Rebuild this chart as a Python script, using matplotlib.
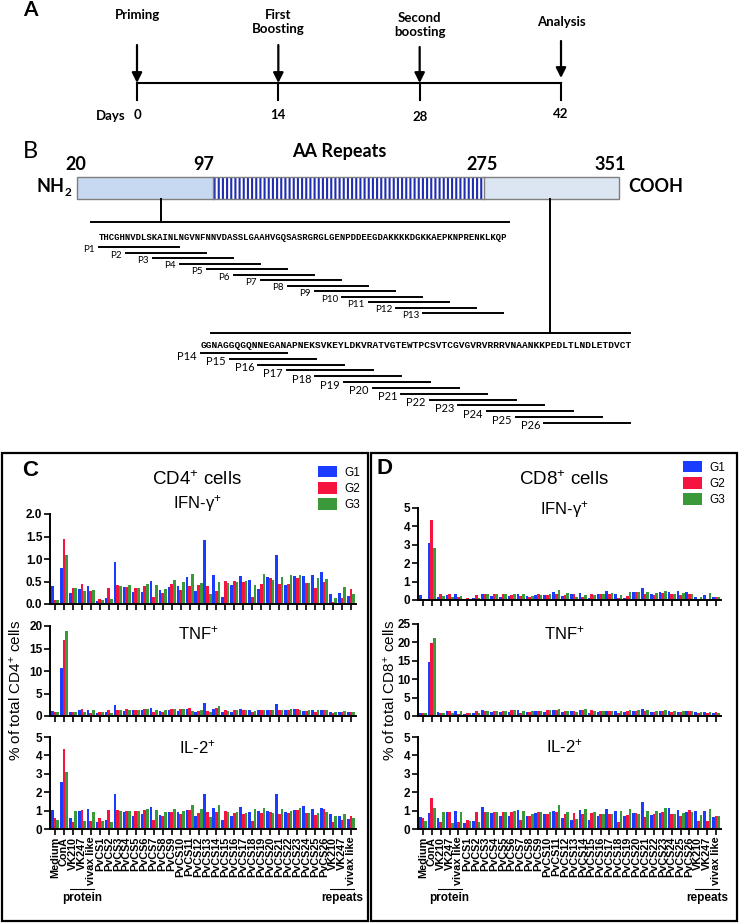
"""
Immunization scheme, PvCS peptide map and cytokine responses (CD4+ / CD8+)
"""

import matplotlib.pyplot as plt
import matplotlib.transforms as mtransforms
import numpy as np
from matplotlib.patches import Rectangle

plt.rcParams["font.family"] = ["Liberation Sans", "DejaVu Sans"]
plt.rcParams["mathtext.fontset"] = "custom"
plt.rcParams["mathtext.rm"] = "Liberation Sans"
plt.rcParams["mathtext.bf"] = "Liberation Sans:bold"
plt.rcParams["mathtext.it"] = "Liberation Sans:italic"
plt.rcParams["hatch.linewidth"] = 1.5

# ── Data ─────────────────────────────────────────────────────────────────────
EVENTS     = ["Priming", "First\nBoosting", "Second\nboosting", "Analysis"]
EVENT_DAYS = [0, 14, 28, 42]

DOMAIN_BOUNDS = [20, 97, 275, 351]
SEQ_N = "THCGHNVDLSKAINLNGVNFNNVDASSLGAAHVGQSASRGRGLGENPDDEEGDAKKKKDGKKAEPKNPRENKLKQP"
SEQ_C = "GGNAGGQGQNNEGANAPNEKSVKEYLDKVRATVGTEWTPCSVTCGVGVRVRRRVNAANKKPEDLTLNDLETDVCT"
PEPTIDES_N = [f"P{i}" for i in range(1, 14)]
PEPTIDES_C = [f"P{i}" for i in range(14, 27)]

STIMULI = (["Medium", "ConA", "VK210", "VK247", "vivax like"]
           + [f"PvCS{i}" for i in range(1, 27)]
           + ["VK210", "VK247", "vivax like"])
GROUPS = ["G1", "G2", "G3"]

CD4_IFN_G1 = [0.39, 0.79, 0.25, 0.34, 0.39, 0.07, 0.14, 0.94, 0.37, 0.26, 0.26, 0.52, 0.32, 0.37, 0.40, 0.60, 0.28,
              1.42, 0.65, 0.15, 0.42, 0.63, 0.53, 0.34, 0.61, 1.10, 0.42, 0.63, 0.63, 0.65, 0.72, 0.22, 0.25, 0.17]
CD4_IFN_G2 = [0.09, 1.45, 0.36, 0.44, 0.29, 0.11, 0.35, 0.42, 0.38, 0.36, 0.40, 0.15, 0.24, 0.45, 0.32, 0.41, 0.43,
              0.40, 0.30, 0.52, 0.52, 0.48, 0.15, 0.45, 0.57, 0.44, 0.44, 0.58, 0.47, 0.35, 0.50, 0.05, 0.13, 0.34]
CD4_IFN_G3 = [0.10, 1.10, 0.36, 0.29, 0.32, 0.09, 0.11, 0.40, 0.42, 0.35, 0.44, 0.42, 0.34, 0.53, 0.48, 0.66, 0.46,
              0.22, 0.48, 0.46, 0.48, 0.52, 0.42, 0.66, 0.53, 0.59, 0.64, 0.65, 0.47, 0.58, 0.55, 0.14, 0.38, 0.22]

CD4_TNF_G1 = [1.2, 10.6, 1.0, 1.4, 1.4, 0.7, 1.0, 2.5, 1.2, 1.3, 1.3, 1.8, 1.1, 1.4, 1.2, 1.5, 0.9,
              2.9, 1.6, 0.8, 1.0, 1.5, 1.4, 1.4, 1.3, 2.6, 1.3, 1.5, 1.2, 1.3, 1.4, 0.9, 1.0, 0.8]
CD4_TNF_G2 = [0.9, 16.8, 0.8, 1.5, 0.7, 0.8, 1.4, 1.3, 1.6, 1.3, 1.6, 0.8, 1.0, 1.5, 1.6, 1.7, 1.1,
              1.2, 1.7, 1.4, 1.3, 1.3, 0.8, 1.3, 1.3, 1.3, 1.3, 1.6, 1.2, 1.0, 1.3, 0.7, 0.8, 1.0]
CD4_TNF_G3 = [0.8, 18.8, 1.0, 0.8, 1.4, 0.8, 0.6, 1.3, 1.4, 1.3, 1.6, 1.3, 1.3, 1.5, 1.6, 1.2, 1.4,
              1.0, 2.2, 1.2, 1.4, 1.3, 1.2, 1.4, 1.3, 1.3, 1.6, 1.4, 1.3, 1.3, 1.3, 0.9, 1.1, 0.8]

CD4_IL2_G1 = [1.05, 2.55, 0.60, 1.00, 1.10, 0.40, 0.50, 1.90, 0.95, 0.70, 0.80, 1.20, 0.75, 0.90, 0.95, 1.05, 0.70,
              1.90, 1.13, 0.50, 0.70, 1.18, 0.93, 0.98, 0.98, 1.88, 0.90, 1.02, 1.23, 1.08, 1.12, 0.80, 0.68, 0.55]
CD4_IL2_G2 = [0.60, 4.35, 0.40, 1.05, 0.45, 0.60, 1.05, 1.05, 1.00, 1.00, 1.05, 0.50, 0.70, 0.92, 0.80, 1.05, 0.85,
              0.93, 0.95, 1.00, 0.87, 0.80, 0.45, 0.88, 0.90, 0.80, 0.85, 1.02, 0.88, 0.75, 1.10, 0.40, 0.48, 0.72]
CD4_IL2_G3 = [0.50, 3.10, 0.97, 0.45, 0.95, 0.45, 0.40, 1.00, 1.00, 1.00, 1.10, 1.05, 0.90, 1.07, 1.00, 1.33, 1.10,
              0.65, 1.28, 0.95, 0.95, 0.88, 1.07, 1.15, 0.85, 1.07, 1.00, 1.12, 0.85, 0.88, 0.95, 0.70, 0.80, 0.60]

CD8_IFN_G1 = [0.25, 3.10, 0.15, 0.25, 0.30, 0.03, 0.10, 0.33, 0.22, 0.18, 0.20, 0.35, 0.22, 0.27, 0.28, 0.42, 0.20,
              0.30, 0.40, 0.10, 0.30, 0.50, 0.35, 0.12, 0.45, 0.65, 0.30, 0.45, 0.45, 0.47, 0.45, 0.15, 0.25, 0.15]
CD8_IFN_G2 = [0.05, 4.35, 0.30, 0.35, 0.15, 0.10, 0.27, 0.30, 0.30, 0.30, 0.28, 0.20, 0.18, 0.33, 0.25, 0.33, 0.27,
              0.30, 0.15, 0.35, 0.35, 0.35, 0.10, 0.22, 0.42, 0.30, 0.25, 0.38, 0.33, 0.25, 0.35, 0.05, 0.05, 0.15]
CD8_IFN_G3 = [0.03, 2.80, 0.20, 0.15, 0.22, 0.05, 0.10, 0.32, 0.32, 0.35, 0.30, 0.33, 0.22, 0.27, 0.35, 0.55, 0.38,
              0.15, 0.27, 0.25, 0.33, 0.40, 0.25, 0.42, 0.45, 0.45, 0.40, 0.47, 0.35, 0.38, 0.32, 0.15, 0.40, 0.15]

CD8_TNF_G1 = [0.9, 14.6, 1.0, 1.3, 1.3, 0.6, 0.9, 1.6, 1.1, 1.2, 1.2, 1.6, 1.0, 1.3, 1.2, 1.5, 1.0,
              1.4, 1.5, 0.8, 1.1, 1.4, 1.3, 1.2, 1.4, 2.0, 1.0, 1.3, 1.4, 1.2, 1.3, 1.0, 1.2, 0.9]
CD8_TNF_G2 = [0.8, 19.9, 0.7, 1.3, 0.6, 0.9, 1.3, 1.4, 1.4, 1.3, 1.5, 0.9, 1.0, 1.4, 1.5, 1.5, 1.3,
              1.3, 1.5, 1.5, 1.3, 1.3, 0.7, 1.3, 1.4, 1.3, 1.2, 1.3, 1.1, 1.1, 1.3, 0.7, 0.7, 1.0]
CD8_TNF_G3 = [0.8, 21.3, 0.9, 0.9, 1.3, 0.7, 0.7, 1.4, 1.4, 1.4, 1.5, 1.4, 1.3, 1.4, 1.5, 1.8, 1.4,
              1.0, 1.9, 1.3, 1.4, 1.3, 1.3, 1.5, 1.5, 1.6, 1.4, 1.6, 1.3, 1.4, 1.4, 1.1, 1.1, 0.9]

CD8_IL2_G1 = [0.65, 0.85, 0.60, 0.95, 1.00, 0.35, 0.45, 1.20, 0.85, 0.68, 0.70, 1.05, 0.70, 0.85, 0.80, 1.00, 0.62,
              0.50, 1.05, 0.50, 0.68, 1.07, 0.98, 0.68, 0.88, 1.48, 0.75, 0.88, 1.15, 1.03, 0.95, 1.00, 1.00, 0.65]
CD8_IL2_G2 = [0.60, 1.70, 0.40, 0.90, 0.40, 0.50, 0.95, 0.95, 0.95, 0.95, 0.95, 0.50, 0.68, 0.90, 0.80, 0.95, 0.80,
              0.88, 0.80, 0.88, 0.82, 0.80, 0.40, 0.75, 0.88, 0.65, 0.82, 0.92, 0.80, 0.72, 1.02, 0.43, 0.45, 0.72]
CD8_IL2_G3 = [0.45, 1.15, 0.90, 0.30, 0.90, 0.45, 0.40, 0.90, 0.93, 0.95, 1.00, 1.00, 0.82, 0.90, 0.90, 1.28, 0.95,
              0.55, 1.08, 0.90, 0.82, 0.80, 1.00, 1.10, 0.80, 1.00, 1.00, 1.15, 0.80, 0.85, 0.90, 0.75, 1.10, 0.72]

# ── Style ────────────────────────────────────────────────────────────────────
COLORS = ["#1a3cff", "#f5143f", "#3a9a3a"]
SCHEME_FONT = "Lato"
W, H = 740, 924

fig = plt.figure(figsize=(W / 100, H / 100), dpi=100)

# full-figure canvas in pixel coordinates (y down)
canvas = fig.add_axes([0, 0, 1, 1])
canvas.set_xlim(0, W)
canvas.set_ylim(H, 0)
canvas.axis("off")


def px_axes(x0, y0, x1, y1):
    return fig.add_axes([x0 / W, 1 - y1 / H, (x1 - x0) / W, (y1 - y0) / H])


# ── A: immunization timeline ─────────────────────────────────────────────────
canvas.text(30, 10, "A", fontsize=15, fontweight="bold", family=SCHEME_FONT, ha="center", va="center")

axA = px_axes(137, 0, 561, 180)
axA.set_xlim(0, 42)
axA.set_ylim(180, 0)
axA.axis("off")
axA.patch.set_visible(False)

label_y  = [15, 22, 25, 22]
arrow_y0 = [45, 45, 47, 41]
arrow_y1 = [83, 83, 83, 78]
day_y    = [115, 115, 117, 114]

axA.plot([EVENT_DAYS[0], EVENT_DAYS[-1]], [83, 83], color="black", lw=1.5, clip_on=False)
for d, ev, ly, a0, a1, dy in zip(EVENT_DAYS, EVENTS, label_y, arrow_y0, arrow_y1, day_y):
    axA.plot([d, d], [83, 100], color="black", lw=1.5, clip_on=False)
    axA.annotate("", xy=(d, a1), xytext=(d, a0),
                 arrowprops=dict(arrowstyle="-|>", color="black", lw=1.6,
                                 mutation_scale=15, shrinkA=0, shrinkB=0))
    axA.text(d, ly, ev, ha="center", va="center", fontsize=9.5, fontweight="bold",
             family=SCHEME_FONT, linespacing=1.25, clip_on=False)
    axA.text(d, dy, str(d), ha="center", va="center", fontsize=9.5, fontweight="bold",
             family=SCHEME_FONT, clip_on=False)
canvas.text(111, 116, "Days", ha="center", va="center", fontsize=9.5, fontweight="bold", family=SCHEME_FONT)

# ── B: protein map and overlapping peptides ──────────────────────────────────
canvas.text(30, 152, "B", fontsize=17, family=SCHEME_FONT, ha="center", va="center")

bar_px = [77, 213, 484, 619]
aa2px = lambda aa: np.interp(aa, DOMAIN_BOUNDS, bar_px)
bar_top, bar_bot = 177, 199

seg_styles = [dict(facecolor="#c6d9f1"),
              dict(facecolor="white", hatch="||||", edgecolor="#1f2db0", linewidth=0),
              dict(facecolor="#dce6f2")]
for (a0, a1), st in zip(zip(DOMAIN_BOUNDS[:-1], DOMAIN_BOUNDS[1:]), seg_styles):
    canvas.add_patch(Rectangle((aa2px(a0), bar_top), aa2px(a1) - aa2px(a0), bar_bot - bar_top, **st))
canvas.add_patch(Rectangle((aa2px(DOMAIN_BOUNDS[0]), bar_top), aa2px(DOMAIN_BOUNDS[-1]) - aa2px(DOMAIN_BOUNDS[0]),
                           bar_bot - bar_top, facecolor="none", edgecolor="#7f7f7f", lw=1))
canvas.plot([aa2px(DOMAIN_BOUNDS[1])] * 2, [bar_top, bar_bot], color="#7f7f7f", lw=1)
canvas.plot([aa2px(DOMAIN_BOUNDS[2])] * 2, [bar_top, bar_bot], color="#7f7f7f", lw=1)

bound_lbl_x = [76, 204, 482, 610]
for aa, lx in zip(DOMAIN_BOUNDS, bound_lbl_x):
    canvas.text(lx, 165, str(aa), ha="center", va="center", fontsize=13, fontweight="bold", family=SCHEME_FONT)
canvas.text(339, 152, "AA Repeats", ha="center", va="center", fontsize=13, fontweight="bold", family=SCHEME_FONT)
canvas.text(64, 187, "NH", ha="right", va="center", fontsize=13, fontweight="bold", family=SCHEME_FONT)
canvas.text(64.5, 193, "2", ha="left", va="center", fontsize=8.5, fontweight="bold", family=SCHEME_FONT)
canvas.text(628, 186, "COOH", ha="left", va="center", fontsize=13, fontweight="bold", family=SCHEME_FONT)

# N-terminal region peptides
canvas.plot([161, 161], [bar_bot, 222], color="black", lw=1.4)
canvas.plot([91, 509], [222, 222], color="black", lw=1.4)
canvas.text(99, 238, SEQ_N, ha="left", va="center", fontsize=6.4, fontweight="bold", family="Liberation Mono")
for i, p in enumerate(PEPTIDES_N):
    x0, y0 = 99 + 27 * i, 247 + 5.5 * i
    canvas.plot([x0, x0 + 80], [y0, y0], color="black", lw=1.4)
    canvas.text(x0 - 4, y0 + 2.5, p, ha="right", va="center", fontsize=7, family=SCHEME_FONT)

# C-terminal region peptides
canvas.plot([550, 550], [bar_bot, 333], color="black", lw=1.4)
canvas.plot([211, 630], [333, 333], color="black", lw=1.4)
canvas.text(201, 346, SEQ_C, ha="left", va="center", fontsize=6.8, fontweight="bold", family="Liberation Mono")
for i, p in enumerate(PEPTIDES_C):
    x0, y0 = 201 + 28.6 * i, 353 + 5.83 * i
    canvas.plot([x0, x0 + 86], [y0, y0], color="black", lw=1.4)
    canvas.text(x0 - 4, y0 + 3, p, ha="right", va="center", fontsize=8, family=SCHEME_FONT)

# ── C / D: cytokine bar charts ───────────────────────────────────────────────
panels = [
    dict(letter="C", letter_xy=(30, 470), box=(2, 453, 368, 921), title="CD4$^{+}$ cells", title_x=197,
         ylabel="% of total CD4$^{+}$ cells", ylabel_x=16, xr=(50, 356), legend_xy=(318, 466),
         rows=[(CD4_IFN_G1, CD4_IFN_G2, CD4_IFN_G3, 514, 604, [0, 0.5, 1.0, 1.5, 2.0], "%.1f", "IFN-γ$^{+}$", 504),
               (CD4_TNF_G1, CD4_TNF_G2, CD4_TNF_G3, 626, 716, [0, 5, 10, 15, 20], "%d", "TNF$^{+}$", 633),
               (CD4_IL2_G1, CD4_IL2_G2, CD4_IL2_G3, 737, 829, [0, 1, 2, 3, 4, 5], "%d", "IL-2$^{+}$", 747)]),
    dict(letter="D", letter_xy=(384, 468), box=(371, 453, 737, 921), title="CD8$^{+}$ cells", title_x=564,
         ylabel="% of total CD8$^{+}$ cells", ylabel_x=390, xr=(418, 721), legend_xy=(683, 461),
         rows=[(CD8_IFN_G1, CD8_IFN_G2, CD8_IFN_G3, 508, 600, [0, 1, 2, 3, 4, 5], "%d", "IFN-γ$^{+}$", 510),
               (CD8_TNF_G1, CD8_TNF_G2, CD8_TNF_G3, 624, 716, [0, 5, 10, 15, 20, 25], "%d", "TNF$^{+}$", 633),
               (CD8_IL2_G1, CD8_IL2_G2, CD8_IL2_G3, 737, 829, [0, 1, 2, 3, 4, 5], "%d", "IL-2$^{+}$", 746)]),
]

x = np.arange(len(STIMULI))
bw = 0.3

for pan in panels:
    bx0, by0, bx1, by1 = pan["box"]
    canvas.add_patch(Rectangle((bx0, by0), bx1 - bx0, by1 - by0, facecolor="none", edgecolor="black", lw=1.6))
    canvas.text(*pan["letter_xy"], pan["letter"], fontsize=16, fontweight="bold", ha="center", va="center")
    canvas.text(pan["title_x"], 480, pan["title"], fontsize=13.5, ha="center", va="center")
    canvas.text(pan["ylabel_x"], 690, pan["ylabel"], fontsize=11, rotation=90, ha="center", va="center")

    axes = []
    for k, (g1, g2, g3, top, bot, yt, fmt, cyt, cyt_y) in enumerate(pan["rows"]):
        ax = px_axes(pan["xr"][0], top, pan["xr"][1], bot)
        ax.patch.set_visible(False)
        bars = []
        for j, vals in enumerate((g1, g2, g3)):
            bars.append(ax.bar(x + (j - 1) * bw, vals, bw, color=COLORS[j], linewidth=0, label=GROUPS[j]))
        ax.set_xlim(-0.55, len(STIMULI) - 0.45)
        ax.set_ylim(0, yt[-1])
        ax.set_yticks(yt)
        ax.set_yticklabels([fmt % v for v in yt], fontsize=8.5, fontweight="bold")
        ax.set_xticks(x)
        ax.set_xticklabels([])
        for s in ["top", "right"]:
            ax.spines[s].set_visible(False)
        for s in ["left", "bottom"]:
            ax.spines[s].set_linewidth(1.4)
        ax.tick_params(axis="both", direction="out", length=4, width=1.2, pad=1.5)
        canvas.text(np.mean(pan["xr"]) - 5, cyt_y, cyt, fontsize=12, ha="center", va="center")
        if k == 0:
            ax.legend(handles=bars, loc="upper left",
                      bbox_to_anchor=(pan["legend_xy"][0] / W, 1 - pan["legend_xy"][1] / H),
                      bbox_transform=fig.transFigure, frameon=False, fontsize=8.5,
                      handlelength=1.6, handleheight=1.1, labelspacing=0.3,
                      handletextpad=0.6, borderpad=0, borderaxespad=0)
        axes.append(ax)

    ax = axes[-1]
    ax.set_xticklabels(STIMULI, rotation=90, fontsize=7.8, fontweight="bold")
    blend = mtransforms.blended_transform_factory(ax.transData, canvas.transData)
    for lo, hi, name in [(2, 4, "protein"), (31, 33, "repeats")]:
        ax.plot([lo - 0.35, hi + 0.35], [889, 889], color="black", lw=0.8, transform=blend, clip_on=False)
        ax.text((lo + hi) / 2, 898, name, ha="center", va="center", fontsize=8.5, fontweight="bold",
                transform=blend, clip_on=False)
    ax.set_xlim(-0.55, len(STIMULI) - 0.45)

fig.savefig("out.png", dpi=100)
